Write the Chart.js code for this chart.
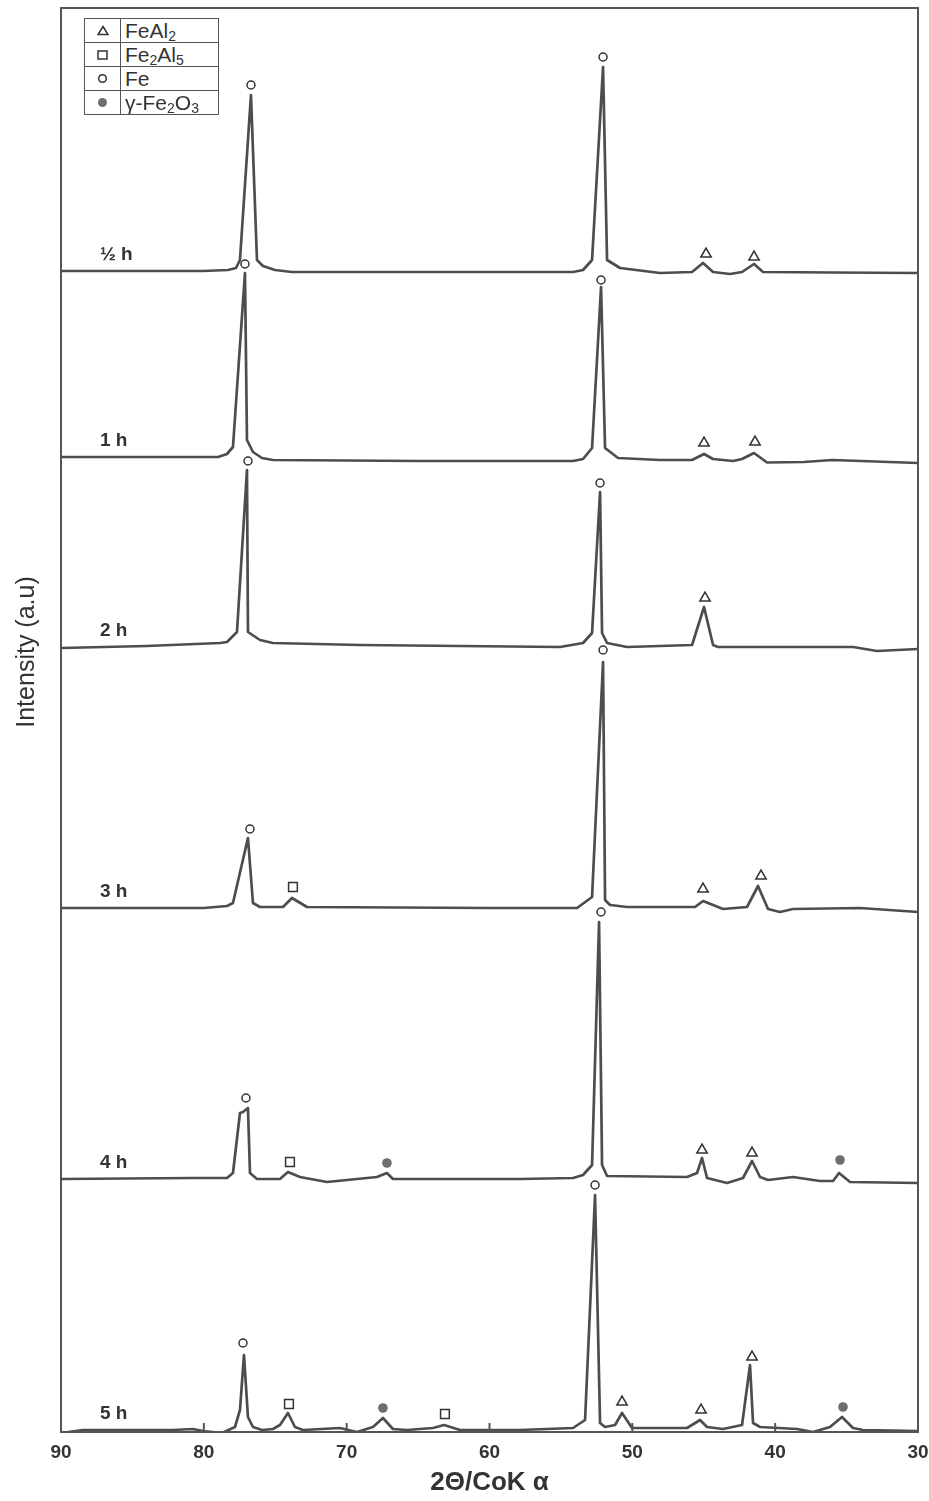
<!DOCTYPE html>
<html>
<head>
  <title>XRD patterns</title>
  <script src="https://cdn.jsdelivr.net/npm/chart.js"></script>
  <style>
    html, body { margin: 0; padding: 0; background: #fff; }
    #wrap { position: relative; width: 929px; height: 1501px; }
    #legend { position: absolute; left: 84px; top: 18px; border-collapse: collapse;
              font-family: 'Liberation Sans', Arial, sans-serif; font-size: 21px; color: #333; background: #fff; }
    #legend td { border: 1px solid #555; height: 23px; padding: 0 4px; line-height: 22px; }
    #legend td.sym { width: 35px; text-align: center; padding: 0; }
    #legend td.name { width: 89px; }
    #legend sub { font-size: 14px; vertical-align: -3px; line-height: 0; }
    #legend svg { display: block; margin: 0 auto; }
  </style>
</head>
<body>
<div id="wrap">
  <canvas id="xrd" width="929" height="1501"></canvas>
  <table id="legend">
    <tr><td class="sym"><svg width="12" height="11"><polygon points="6,1.5 11,9.5 1,9.5" fill="none" stroke="#333" stroke-width="1.5"/></svg></td><td class="name">FeAl<sub>2</sub></td></tr>
    <tr><td class="sym"><svg width="11" height="10"><rect x="1" y="1" width="9" height="8" fill="none" stroke="#333" stroke-width="1.5"/></svg></td><td class="name">Fe<sub>2</sub>Al<sub>5</sub></td></tr>
    <tr><td class="sym"><svg width="11" height="11"><circle cx="5.5" cy="5.5" r="3.8" fill="none" stroke="#333" stroke-width="1.5"/></svg></td><td class="name">Fe</td></tr>
    <tr><td class="sym"><svg width="11" height="11"><circle cx="5.5" cy="5.5" r="4.5" fill="#6e6e6e"/></svg></td><td class="name">&gamma;-Fe<sub>2</sub>O<sub>3</sub></td></tr>
  </table>
</div>
<script>
// milling times, one scan each (top to bottom)
var sampleLabels = ['½ h', '1 h', '2 h', '3 h', '4 h', '5 h'];
// vertical stacking offset of each scan (a.u.)
var stackOffsets = [1161, 975, 785, 524, 253, 2];
var xTicks = [90, 80, 70, 60, 50, 40, 30];

// [2theta, intensity above baseline]
var scanHalf = [[90,0],[83.98,0],[80.06,0],[78.31,1],[77.75,3],[77.47,11],[76.70,176],[76.28,11],[75.86,5],[75.02,1],
  [73.83,-1],[64,-1],[54.15,-1],[53.45,1],[52.82,11],[52.05,204],[51.77,11],[50.86,3],[48.06,-2],[45.82,-1],
  [45.05,8],[44.35,-1],[43.16,-3],[42.32,-1],[41.48,7],[40.85,-1],[36,-1.5],[30,-2]];
var scan1h = [[90,0],[84,0],[79.0,0],[78.38,3],[77.96,10],[77.12,184],[76.98,17],[76.56,5],[75.93,-1],[75.16,-3],
  [65,-4],[54.15,-4],[53.45,-2],[52.82,9],[52.19,170],[51.91,9],[51.00,-1],[48.06,-3],[45.82,-3],[44.98,3],
  [44.35,-2],[42.95,-4],[42.32,-2],[41.48,4],[40.57,-5.5],[38,-5],[36,-3],[30,-6]];
var scan2h = [[90,-1],[84,1],[78.87,4],[78.38,5],[77.68,15],[76.98,177],[76.91,15],[76.07,7],[75.16,4],[69.07,2],
  [55.06,0],[53.45,4],[52.82,14],[52.26,155],[52.12,14],[51.77,4],[50.37,0],[45.82,2],[44.98,40],[44.35,2],
  [44.0,0],[34.55,0],[32.87,-4],[30,-2]];
var scan3h = [[90,0],[80,0],[78.38,2],[77.96,5],[76.91,70],[76.56,5],[76.07,1],[74.46,1],[73.83,10],[72.78,1],
  [60,0],[53.87,0],[52.82,11],[52.05,246],[51.91,8],[51.56,3],[50.37,1],[45.61,1],[45.05,7],[43.65,-1],
  [41.97,1],[41.20,22],[40.50,-1],[39.66,-4],[38.75,-1],[34.06,0],[30,-4]];
var scan4h = [[90,0],[80.76,1],[78.38,1],[77.96,6],[77.47,66],[77.26,67],[76.91,71],[76.77,6],[76.28,0],[74.67,0],
  [74.11,7],[73.27,2],[71.38,-3],[67.88,2],[67.18,6],[66.76,0],[57.86,0],[54.15,1],[53.45,4],[52.82,14],
  [52.33,257],[52.12,14],[51.77,3],[46.17,2],[45.47,6],[45.12,21],[44.77,1],[43.37,-4],[42.25,1],[41.62,18],
  [41.06,2],[40.50,-1],[38.75,2],[36.86,-2],[35.95,-2],[35.53,6],[34.76,-3],[30,-4]];
var scan5h = [[90,-3],[88.46,0],[82.16,0],[80.76,1],[80.06,-1],[78.73,-3],[77.82,3],[77.47,20],[77.19,75],[76.91,13],
  [76.56,3],[75.93,0],[75.16,1],[74.67,5],[74.11,17],[73.62,3],[73.06,0],[70.47,2],[69.28,-2],[68.16,3],
  [67.46,12],[66.76,1],[65.78,0],[63.96,2],[63.18,5],[62.06,0],[57.86,0],[54.15,2],[53.31,10],[52.61,235],
  [52.26,7],[51.91,3],[51.21,5],[50.72,17],[50.02,2],[46.17,2],[45.26,10],[44.77,3],[43.65,1],[42.32,5],
  [41.76,65],[41.55,7],[41.06,3],[38.47,1],[37.35,-2],[36.16,3],[35.32,13],[34.55,2],[33.85,0],[30,-1]];
var scans = [scanHalf, scan1h, scan2h, scan3h, scan4h, scan5h];

// phase markers [2theta, absolute a.u.]
var feMarks = [[76.70,1347],[52.05,1375],[77.12,1168],[52.19,1152],[76.91,971],[52.26,949],
  [76.77,603],[52.05,782],[77.05,334],[52.19,520],[77.26,89],[52.61,247]];
var feAl2Marks = [[44.84,1178],[41.48,1175],[44.98,989],[41.41,990],[44.91,834],[45.05,543],
  [40.99,556],[45.12,282],[41.62,279],[50.72,30],[45.19,22],[41.62,75]];
var fe2Al5Marks = [[73.76,545],[73.97,270],[74.04,28],[63.12,18]];
var fe2O3Marks = [[67.18,269],[35.46,272],[67.46,24],[35.25,25]];

var labelAngle = 87.27;
var labelLift = 16;
var FONT = "'Liberation Sans', Arial, sans-serif";

function toXY(list) { return list.map(function (p) { return { x: p[0], y: p[1] }; }); }

var datasets = scans.map(function (scan, i) {
  return {
    type: 'line',
    label: sampleLabels[i],
    data: scan.map(function (p) { return { x: p[0], y: p[1] + stackOffsets[i] }; }),
    borderColor: '#4d4d4d',
    borderWidth: 2.7,
    borderJoinStyle: 'round',
    pointRadius: 0,
    tension: 0,
    order: 2
  };
});

function marks(label, list, style, radius, fill) {
  return {
    type: 'scatter', label: label, data: toXY(list),
    pointStyle: style, pointRadius: radius, pointBorderWidth: fill ? 0 : 1.5,
    pointBackgroundColor: fill || '#fff', pointBorderColor: '#333', order: 1
  };
}
datasets.push(marks('Fe', feMarks, 'circle', 4, null));
datasets.push(marks('FeAl2', feAl2Marks, 'triangle', 6, null));
datasets.push(marks('Fe2Al5', fe2Al5Marks, 'rect', 6.2, null));
datasets.push(marks('γ-Fe2O3', fe2O3Marks, 'circle', 4.8, '#6e6e6e'));

var decorations = {
  id: 'decorations',
  afterDraw: function (chart) {
    var ctx = chart.ctx, a = chart.chartArea, xs = chart.scales.x, ys = chart.scales.y;
    ctx.save();
    ctx.strokeStyle = '#555';
    ctx.lineWidth = 2;
    ctx.strokeRect(a.left, a.top, a.right - a.left, a.bottom - a.top);
    xs.ticks.forEach(function (t) {
      var px = xs.getPixelForValue(t.value);
      ctx.beginPath(); ctx.moveTo(px, a.bottom); ctx.lineTo(px, a.bottom - 9); ctx.stroke();
    });
    ctx.fillStyle = '#333';
    ctx.font = 'bold 19px ' + FONT;
    ctx.textBaseline = 'middle';
    ctx.textAlign = 'left';
    sampleLabels.forEach(function (lab, i) {
      ctx.fillText(lab, xs.getPixelForValue(labelAngle), ys.getPixelForValue(stackOffsets[i] + labelLift));
    });
    ctx.translate(27, 652);
    ctx.rotate(-Math.PI / 2);
    ctx.textAlign = 'center';
    ctx.font = '25px ' + FONT;
    ctx.fillText('Intensity (a.u)', 0, 0);
    ctx.restore();
  }
};

new Chart(document.getElementById('xrd'), {
  data: { datasets: datasets },
  options: {
    responsive: false,
    animation: false,
    layout: { padding: { left: 61, right: 11, top: 8, bottom: 0 } },
    plugins: { legend: { display: false }, tooltip: { enabled: false } },
    scales: {
      x: {
        type: 'linear', reverse: true, min: 30, max: 90,
        afterBuildTicks: function (s) { s.ticks = xTicks.map(function (v) { return { value: v }; }); },
        afterFit: function (s) { s.height = 69; s.paddingLeft = 0; s.paddingRight = 0; },
        grid: { display: false, drawTicks: false },
        border: { display: false },
        ticks: { color: '#333', padding: 9, font: { family: FONT, size: 19, weight: 'bold' } },
        title: { display: true, text: '2Θ/CoK α', color: '#333', padding: { top: 0, bottom: 3 },
                 font: { family: FONT, size: 26, weight: 'bold' } }
      },
      y: { display: false, min: 0, max: 1424 }
    }
  },
  plugins: [decorations]
});
</script>
</body>
</html>
